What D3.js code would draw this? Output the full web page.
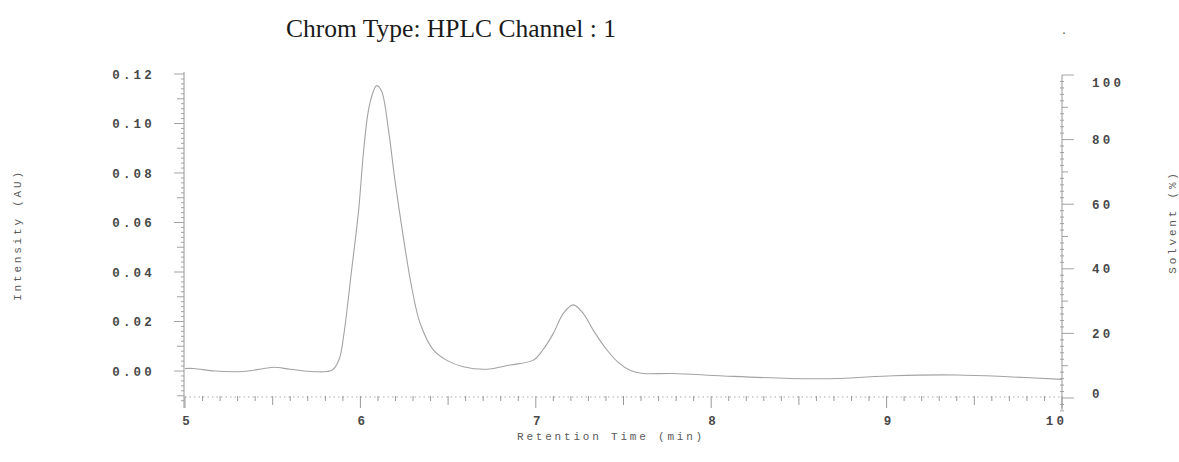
<!DOCTYPE html>
<html>
<head>
<meta charset="utf-8">
<script src="https://cdn.jsdelivr.net/npm/d3@7"></script>
<style>
  html, body { margin: 0; padding: 0; background: #fff; }
  svg { display: block; }
  .tick-label { font-family: "Liberation Mono", "DejaVu Sans Mono", monospace; font-size: 12.5px; font-weight: bold; fill: #484848; letter-spacing: 3.2px; }
  .axis-title { font-family: "Liberation Mono", "DejaVu Sans Mono", monospace; font-size: 11px; fill: #5a5a5a; letter-spacing: 2.8px; }
  .title { font-family: "Liberation Serif", "Times New Roman", serif; font-size: 25.5px; fill: #1a1a1a; }
</style>
</head>
<body>
<script>
// ---- data ----
const retentionTime = [5.0, 5.05, 5.17, 5.33, 5.45, 5.51, 5.6, 5.74, 5.84, 5.88, 5.905, 5.95, 5.99, 6.017, 6.045, 6.074, 6.093, 6.121, 6.16, 6.197, 6.245, 6.292, 6.34, 6.416, 6.49, 6.587, 6.72, 6.853, 6.986, 7.04, 7.1, 7.157, 7.214, 7.27, 7.33, 7.4, 7.47, 7.54, 7.61, 7.78, 8.07, 8.45, 8.73, 9.04, 9.4, 9.69, 10.0];
const intensity = [0.001, 0.001, 0.0, -0.0002, 0.001, 0.0015, 0.0007, -0.0003, 0.0004, 0.005, 0.0145, 0.0408, 0.065, 0.088, 0.105, 0.113, 0.1153, 0.113, 0.0974, 0.077, 0.054, 0.034, 0.0194, 0.0085, 0.0044, 0.0017, 0.0007, 0.0024, 0.0044, 0.0085, 0.0152, 0.0233, 0.0267, 0.0233, 0.0162, 0.009, 0.0035, 0.0002, -0.001, -0.001, -0.002, -0.003, -0.003, -0.0019, -0.0016, -0.0023, -0.0034];
const xTickLabels = [5, 6, 7, 8, 9, 10];
const leftTickLabels = [0.00, 0.02, 0.04, 0.06, 0.08, 0.10, 0.12];
const rightTickLabels = [0, 20, 40, 60, 80, 100];
const titleText = "Chrom Type: HPLC Channel : 1";
const xTitle = "Retention Time (min)";
const yLeftTitle = "Intensity (AU)";
const yRightTitle = "Solvent (%)";

// ---- layout ----
const W = 1179, H = 462;
const svg = d3.select("body").append("svg").attr("width", W).attr("height", H);

const x = d3.scaleLinear().domain([5, 10]).range([185, 1062]);
const y = d3.scaleLinear().domain([0, 0.12]).range([371, 74]);
const yR = d3.scaleLinear().domain([0, 100]).range([398, 75]);

const axisColor = "#999";

// title
svg.append("text").attr("class", "title").attr("x", 451).attr("y", 37)
  .attr("text-anchor", "middle").text(titleText);
svg.append("text").attr("class", "title").attr("x", 1064).attr("y", 34)
  .attr("text-anchor", "middle").style("font-size", "14px").style("fill", "#666").text(".");

// ---- bottom axis ----
const xAxisY = 397;
svg.append("line").attr("x1", x(5)).attr("x2", x(10)).attr("y1", xAxisY).attr("y2", xAxisY)
  .attr("stroke", axisColor).attr("stroke-width", 0.8).attr("stroke-dasharray", "1.5,3");
const xMinor = d3.range(50, 101).map(d => d / 10);
svg.append("g").selectAll("line").data(xMinor).join("line")
  .attr("x1", d => x(d)).attr("x2", d => x(d))
  .attr("y1", xAxisY - 1)
  .attr("y2", d => {
    const r = Math.round(d * 10);
    if (r % 10 === 0) return xAxisY + 11;
    if (r % 5 === 0) return xAxisY + 8;
    return xAxisY + 4;
  })
  .attr("stroke", axisColor).attr("stroke-width", 1);
const xAxis = d3.axisBottom(x).tickValues(xTickLabels).tickSize(0).tickFormat(d3.format("d"));
const gx = svg.append("g").attr("transform", `translate(0,${xAxisY + 16})`).call(xAxis);
gx.select(".domain").remove();
gx.selectAll("text").attr("class", "tick-label").attr("dy", "0.71em")
  .attr("dx", d => (d === 10 ? "-6px" : "2px"));

// ---- left axis ----
const leftX = 184;
svg.append("line").attr("x1", leftX).attr("x2", leftX).attr("y1", 72).attr("y2", 408)
  .attr("stroke", axisColor).attr("stroke-width", 1);
const yMinor = d3.range(-6, 61).map(d => d * 0.002);
svg.append("g").selectAll("line").data(yMinor).join("line")
  .attr("x1", leftX)
  .attr("x2", d => {
    const r = Math.round(d * 1000);
    if (r % 20 === 0) return leftX - 10;
    if (r % 10 === 0) return leftX - 7;
    return leftX - 3;
  })
  .attr("y1", d => y(d)).attr("y2", d => y(d))
  .attr("stroke", axisColor).attr("stroke-width", 0.9);
const yAxisL = d3.axisLeft(y).tickValues(leftTickLabels).tickSize(0).tickFormat(d3.format(".2f"));
const gyl = svg.append("g").attr("transform", `translate(${leftX - 26},0)`).call(yAxisL);
gyl.select(".domain").remove();
gyl.selectAll("text").attr("class", "tick-label");

// ---- right axis ----
const rightX = 1062;
svg.append("line").attr("x1", rightX).attr("x2", rightX).attr("y1", 75).attr("y2", 410)
  .attr("stroke", axisColor).attr("stroke-width", 1);
const rMinor = d3.range(-2, 51).map(d => d * 2);
svg.append("g").selectAll("line").data(rMinor).join("line")
  .attr("x1", d => (d % 10 === 0 ? rightX : rightX - 2))
  .attr("x2", d => {
    if (d % 20 === 0) return rightX + 12;
    if (d % 10 === 0) return rightX + 6;
    return rightX + 2;
  })
  .attr("y1", d => yR(d)).attr("y2", d => yR(d))
  .attr("stroke", axisColor).attr("stroke-width", 0.9);
const yAxisR = d3.axisRight(yR).tickValues(rightTickLabels).tickSize(0).tickFormat(d3.format("d"));
const gyr = svg.append("g").attr("transform", `translate(${rightX + 30},0)`).call(yAxisR);
gyr.select(".domain").remove();
gyr.selectAll("text").attr("class", "tick-label").attr("x", 0)
  .attr("dy", d => (d === 100 ? "0.9em" : d === 0 ? "-0.05em" : "0.32em"));

// ---- axis titles ----
svg.append("text").attr("class", "axis-title").attr("x", 611).attr("y", 440)
  .attr("text-anchor", "middle").text(xTitle);
svg.append("text").attr("class", "axis-title")
  .attr("transform", "translate(21,235) rotate(-90)")
  .attr("text-anchor", "middle").text(yLeftTitle);
svg.append("text").attr("class", "axis-title")
  .attr("transform", "translate(1176,222) rotate(-90)")
  .attr("text-anchor", "middle").text(yRightTitle);

// ---- trace ----
const pts = retentionTime.map((t, i) => [t, intensity[i]]);
const line = d3.line().x(d => x(d[0])).y(d => y(d[1])).curve(d3.curveCatmullRom.alpha(0.5));
svg.append("path").datum(pts).attr("d", line)
  .attr("fill", "none").attr("stroke", "#a3a3a3").attr("stroke-width", 1.1);
</script>
</body>
</html>
